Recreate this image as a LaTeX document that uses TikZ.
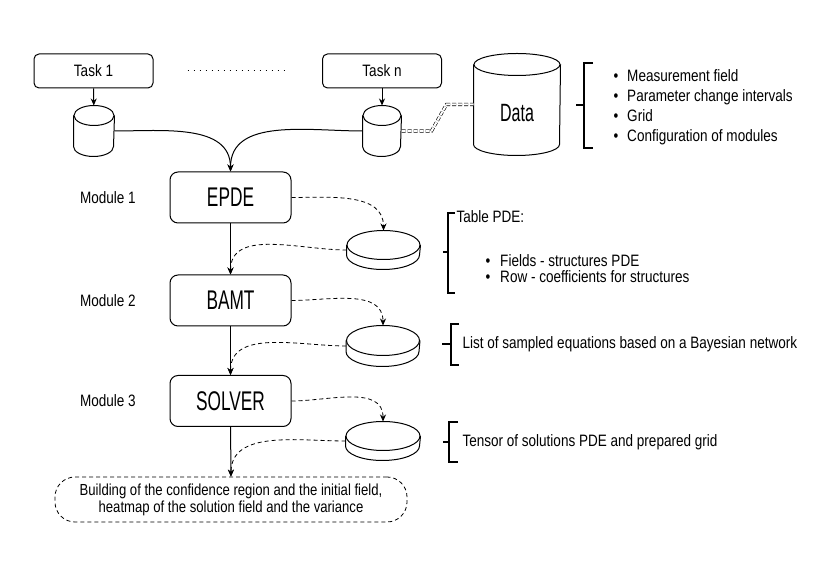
\documentclass[tikz,border=0pt]{standalone}
\usepackage{fontspec}
\setmainfont{Liberation Sans}[FakeStretch=0.82]
\newfontfamily\bigfont{Liberation Sans}[FakeStretch=0.64]
\usetikzlibrary{arrows.meta, positioning, calc}

\tikzset{
  box/.style={draw, rounded corners=8pt, minimum width=121pt, minimum height=51pt, font=\bigfont\fontsize{27}{30}\selectfont},
  taskbox/.style={draw, rounded corners=5pt, minimum width=119pt, minimum height=34pt},
  barrel/.style={inner sep=0pt},
  brace/.style={line width=1.6pt},
  flow/.style={->, dash pattern=on 4pt off 3pt, line width=0.8pt}
}

\begin{document}
\begin{tikzpicture}[x=1pt, y=1pt, line width=1pt, >={Stealth[length=7pt,width=6pt]},
  font=\fontsize{16.5}{18}\selectfont]
\useasboundingbox (0,0) rectangle (827,583);

% Tasks
\node[taskbox] (task1) at (93.5,512) {Task 1};
\node[taskbox] (taskn) at (382,512) {Task n};
\draw[dash pattern=on 1.5pt off 4.5pt, shorten <=34pt, shorten >=38pt] (task1) -- (taskn);

% Storages
\node[barrel, minimum width=40pt, minimum height=50pt] (cyl1) at (94,452) {};
\node[barrel, minimum width=38pt, minimum height=50pt] (cyln) at (382,452) {};
\node[barrel, minimum width=86pt, minimum height=101pt] (data) at (517,478.5) {};
\node[barrel, minimum width=73pt, minimum height=38pt] (disk1) at (383.5,333) {};
\node[barrel, minimum width=73pt, minimum height=40pt] (disk2) at (383,237) {};
\node[barrel, minimum width=74pt, minimum height=38pt] (disk3) at (383,142) {};
\foreach \n/\w/\r in {cyl1/40/10, cyln/38/10, data/86/11, disk1/73/14.5, disk2/73/15, disk3/74/14.5} {
  \draw ($(\n.north west)+(0,-\r)$) -- ($(\n.south west)+(0,\r)$)
    arc[start angle=180, end angle=360, x radius=\w/2, y radius=\r] -- ($(\n.north east)+(0,-\r)$);
  \draw ($(\n.north)+(0,-\r)$) ellipse[x radius=\w/2, y radius=\r];
}
\node[font=\bigfont\fontsize{25}{28}\selectfont] (datatext) at ($(data.center)+(0,-9)$) {Data};

% Modules
\node[box] (epde) at (230.5,385.5) {EPDE};
\node[box] (bamt) at (230.5,282.5) {BAMT};
\node[box] (solver) at (230.5,182) {SOLVER};
\node[left=30pt of epde] (mod1) {Module 1};
\node[left=30pt of bamt] (mod2) {Module 2};
\node[left=30pt of solver] (mod3) {Module 3};
\node[draw, dash pattern=on 4pt off 3pt, line width=0.8pt, rounded corners=20pt, minimum width=352pt, minimum height=45pt,
  align=center, font=\fontsize{16}{17}\selectfont] (result) at (231,83.5)
  {Building of the confidence region and the initial field,\\ heatmap of the solution field and the variance};

% Connectors
\draw[->] (task1) -- (cyl1);
\draw[->] (taskn) -- (cyln);
\draw[->] (cyl1.east) to[out=0, in=90] (epde.north);
\draw[->] (cyln.west) to[out=180, in=90] (epde.north);
\draw[double, double distance=2pt, line width=0.6pt, dash pattern=on 4pt off 2pt]
  (cyln.east) -- ++(30,0) -- ($(data.west)+(-27,0)$) -- (data.west);
\draw[->] (epde) -- (bamt);
\draw[->] (bamt) -- (solver);
\draw[->] (solver) -- (result);
\draw[flow] (epde.east) to[out=0, in=90] (disk1.north);
\draw[flow] (disk1.west) to[out=180, in=90] (bamt.north);
\draw[flow] (bamt.east) to[out=0, in=90] (disk2.north);
\draw[flow] (disk2.west) to[out=180, in=90] (solver.north);
\draw[flow] (solver.east) to[out=0, in=90] (disk3.north);
\draw[flow] (disk3.west) to[out=180, in=90] (result.north);

% Brackets and notes
\draw[brace] (593,520) -- (584,520) -- (584,435) -- (593,435);
\draw[brace] (576,478) -- (584,478);
\node[anchor=west, align=left, inner sep=0pt, font=\fontsize{16.5}{20}\selectfont] (datalist) at (613,476)
  {\textbullet\hspace{9pt}Measurement field\\ \textbullet\hspace{9pt}Parameter change intervals\\
   \textbullet\hspace{9pt}Grid\\ \textbullet\hspace{9pt}Configuration of modules};

\draw[brace] (455,370) -- (448,370) -- (448,290) -- (455,290);
\draw[brace] (443,331) -- (448,331);
\node[anchor=west, inner sep=0pt] (tabletitle) at (456,366) {Table PDE:};
\node[anchor=west, align=left, inner sep=0pt, font=\fontsize{16.5}{15.5}\selectfont] (tablelist) at (485,314.5)
  {\textbullet\hspace{10pt}Fields - structures PDE\\ \textbullet\hspace{10pt}Row - coefficients for structures};

\draw[brace] (459,259) -- (451,259) -- (451,218) -- (459,218);
\draw[brace] (442,239) -- (451,239);
\node[anchor=west, inner sep=0pt] (samples) at (462,239) {List of sampled equations based on a Bayesian network};

\draw[brace] (458,161) -- (449,161) -- (449,121) -- (458,121);
\draw[brace] (443,141) -- (449,141);
\node[anchor=west, inner sep=0pt] (tensor) at (462,141) {Tensor of solutions PDE and prepared grid};
\end{tikzpicture}
\end{document}
